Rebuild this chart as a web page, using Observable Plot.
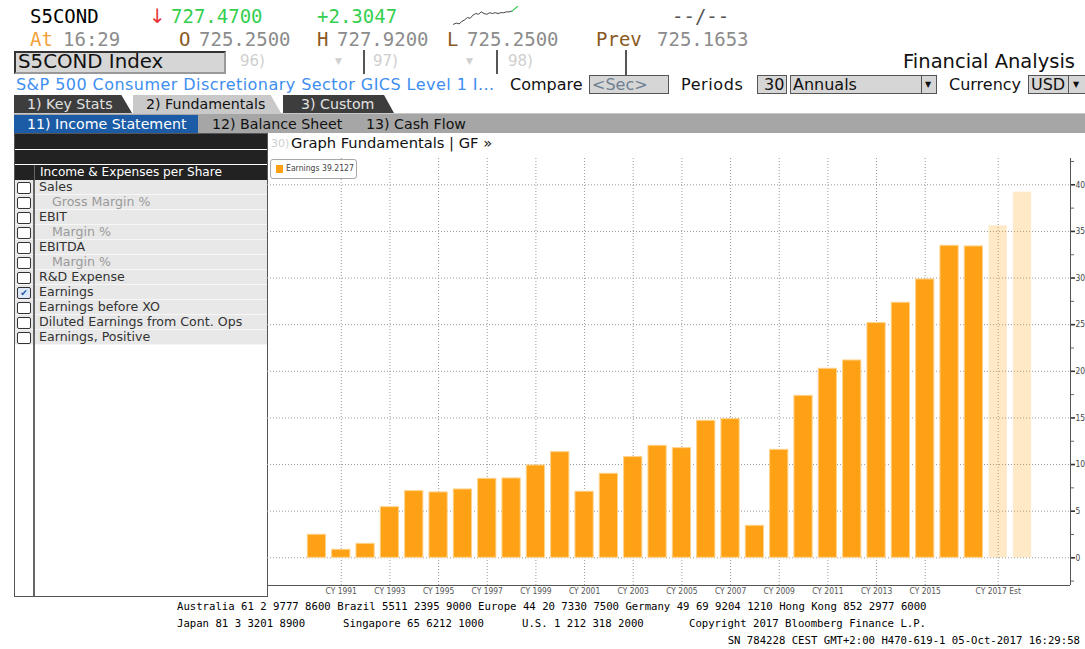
<!DOCTYPE html>
<html>
<head>
<meta charset="utf-8">
<script src="https://cdn.jsdelivr.net/npm/d3@7"></script>
<script src="https://cdn.jsdelivr.net/npm/@observablehq/plot@0.6"></script>
<style>
  html, body { margin:0; padding:0; background:#fff; }
  body { width:1085px; height:649px; position:relative; overflow:hidden; font-family:"DejaVu Sans", sans-serif; }
  .a { position:absolute; white-space:nowrap; }
  .mono { font-family:"DejaVu Sans Mono", monospace; font-size:19px; line-height:22px; }
  .gray { color:#8c8c8c; }
  .brown { color:#8a5a22; }
  .green { color:#35cf4f; }
  .box { position:absolute; background:#d6d6d6; border:1px solid #555; box-sizing:border-box; }
  .tab { position:absolute; height:18px; top:95px; font-size:14.2px; line-height:18px; box-sizing:border-box; padding-left:13px; }
  .row { position:absolute; left:34px; width:233px; height:15px; background:#e8e8e8; border-bottom:1px solid #f6f6f6; box-sizing:border-box; font-size:12.6px; line-height:14px; color:#333; padding-left:5px; }
  .cb { position:absolute; left:17px; width:12px; height:10px; border:1.5px solid #333; border-radius:2px; background:#fff; }
  .cbcell { position:absolute; left:15px; width:19px; height:15px; background:#e8e8e8; border-bottom:1px solid #f6f6f6; box-sizing:border-box; }
  .foot { font-family:"DejaVu Sans Mono", monospace; font-size:10.65px; line-height:13px; color:#000; }
  .r4 { font-size:16px; line-height:19px; color:#111; top:75px; }
</style>
</head>
<body>
<script>
// ---------------- data ----------------
const periods = [
  "CY 1990","CY 1991","CY 1992","CY 1993","CY 1994","CY 1995","CY 1996","CY 1997","CY 1998","CY 1999",
  "CY 2000","CY 2001","CY 2002","CY 2003","CY 2004","CY 2005","CY 2006","CY 2007","CY 2008","CY 2009",
  "CY 2010","CY 2011","CY 2012","CY 2013","CY 2014","CY 2015","CY 2016","CY 2017","CY 2017 Est","CY 2018 Est"
];
const earnings = [
  2.47, 0.86, 1.50, 5.43, 7.15, 7.01, 7.33, 8.47, 8.51, 9.90,
  11.33, 7.08, 9.01, 10.80, 12.01, 11.76, 14.69, 14.87, 3.43, 11.58,
  17.37, 20.27, 21.16, 25.17, 27.35, 29.85, 33.46, 33.39, 35.60, 39.2127
];
const estimatePeriods = ["CY 2017 Est", "CY 2018 Est"];
const tickPeriods = ["CY 1991","CY 1993","CY 1995","CY 1997","CY 1999","CY 2001","CY 2003","CY 2005","CY 2007","CY 2009","CY 2011","CY 2013","CY 2015","CY 2017 Est"];
const tickLabels  = ["CY 1991","CY 1993","CY 1995","CY 1997","CY 1999","CY 2001","CY 2003","CY 2005","CY 2007","CY 2009","CY 2011","CY 2013","CY 2015","CY 2017 Est"];
const yTicks = [0, 5, 10, 15, 20, 25, 30, 35, 40];
const yMinorTicks = [-2.5, 2.5, 7.5, 12.5, 17.5, 22.5, 27.5, 32.5, 37.5, 42.5];
const seriesName = "Earnings";
// intraday sparkline
const sparkMain = [725.25, 725.4, 725.3, 725.6, 725.8, 726.1, 726.0, 726.4, 726.6, 726.5, 726.8, 726.6, 726.5, 726.7, 726.6, 726.7, 726.6, 726.7, 726.7, 726.8, 726.8, 726.9];
const sparkLast = [726.9, 727.47];

// left menu items
const menuItems = [
  ["Sales", false, false], ["Gross Margin %", true, false], ["EBIT", false, false], ["Margin %", true, false],
  ["EBITDA", false, false], ["Margin %", true, false], ["R&D Expense", false, false], ["Earnings", false, true],
  ["Earnings before XO", false, false], ["Diluted Earnings from Cont. Ops", false, false], ["Earnings, Positive", false, false]
];
</script>

<!-- Row 1 -->
<div class="a mono" style="left:30px;top:5px;color:#000;">S5COND</div>
<div class="a" style="left:149px;top:4px;font-size:20px;color:#e8353b;">↓</div>
<div class="a mono green" style="left:171px;top:5px;">727.4700</div>
<div class="a mono green" style="left:317px;top:5px;">+2.3047</div>
<div id="spark" class="a" style="left:451px;top:3px;"></div>
<div class="a mono" style="left:672px;top:5px;color:#555;">--/--</div>

<!-- Row 2 -->
<div class="a mono" style="left:30px;top:28px;color:#f2a23a;">At</div>
<div class="a mono gray" style="left:63px;top:28px;">16:29</div>
<div class="a mono brown" style="left:179px;top:28px;">O</div>
<div class="a mono gray" style="left:199px;top:28px;">725.2500</div>
<div class="a mono brown" style="left:317px;top:28px;">H</div>
<div class="a mono gray" style="left:337px;top:28px;">727.9200</div>
<div class="a mono brown" style="left:447px;top:28px;">L</div>
<div class="a mono gray" style="left:467px;top:28px;">725.2500</div>
<div class="a mono brown" style="left:596px;top:28px;">Prev</div>
<div class="a mono gray" style="left:657px;top:28px;">725.1653</div>

<!-- Row 3 -->
<div class="box" style="left:14px;top:51px;width:212px;height:23px;border:2px solid #333;border-right-color:#999;border-bottom-color:#999;"></div>
<div class="a" style="left:18px;top:50px;font-size:19.8px;line-height:23px;color:#111;">S5COND Index</div>
<div class="a" style="left:240px;top:52px;font-size:15px;color:#cfcfcf;">96)</div>
<div class="a" style="left:335px;top:56px;font-size:9px;color:#cfcfcf;">▼</div>
<div class="a" style="left:363px;top:50px;width:2px;height:24px;background:#555;"></div>
<div class="a" style="left:373px;top:52px;font-size:15px;color:#cfcfcf;">97)</div>
<div class="a" style="left:466px;top:56px;font-size:9px;color:#cfcfcf;">▼</div>
<div class="a" style="left:496px;top:50px;width:2px;height:24px;background:#555;"></div>
<div class="a" style="left:508px;top:52px;font-size:15px;color:#cfcfcf;">98)</div>
<div class="a" style="left:625px;top:50px;width:2px;height:25px;background:#555;"></div>
<div class="a" style="right:10px;top:50px;font-size:19.5px;color:#111;">Financial Analysis</div>

<!-- Row 4 -->
<div class="a r4" style="left:16px;color:#3d8ef0;letter-spacing:0.45px;">S&amp;P 500 Consumer Discretionary Sector GICS Level 1 I...</div>
<div class="a r4" style="left:510px;">Compare</div>
<div class="box" style="left:589px;top:75px;width:80px;height:19px;"></div>
<div class="a r4" style="left:592px;color:#6f7f92;">&lt;Sec&gt;</div>
<div class="a r4" style="left:681px;letter-spacing:0.6px;">Periods</div>
<div class="box" style="left:757px;top:75px;width:30px;height:19px;"></div>
<div class="a r4" style="left:764px;">30</div>
<div class="box" style="left:790px;top:75px;width:147px;height:19px;"></div>
<div class="a r4" style="left:793px;">Annuals</div>
<div class="a" style="left:921px;top:76px;width:1px;height:17px;background:#555;"></div>
<div class="a" style="left:925px;top:78px;font-size:8px;line-height:14px;color:#111;">▼</div>
<div class="a r4" style="left:949px;">Currency</div>
<div class="box" style="left:1028px;top:75px;width:60px;height:19px;"></div>
<div class="a r4" style="left:1031px;">USD</div>
<div class="a" style="left:1068px;top:76px;width:1px;height:17px;background:#555;"></div>
<div class="a" style="left:1073px;top:78px;font-size:8px;line-height:14px;color:#111;">▼</div>

<!-- Row 5 tabs -->
<div class="tab" style="left:14px;width:118px;background:#3d3d3d;color:#e2e2e2;clip-path:polygon(0 0,91% 0,100% 100%,0 100%);">1) Key Stats</div>
<div class="tab" style="left:133px;width:148px;background:#c9c9c9;color:#111;clip-path:polygon(0 0,93% 0,100% 100%,0 100%);">2) Fundamentals</div>
<div class="tab" style="left:283px;width:111px;background:#3d3d3d;color:#e2e2e2;clip-path:polygon(0 0,91% 0,100% 100%,0 100%);padding-left:18px;">3) Custom</div>

<!-- Row 6 subtabs -->
<div class="a" style="left:14px;top:113px;width:1071px;height:20px;background:#a6a6a6;border-top:1px solid #c8c8c8;box-sizing:border-box;"></div>
<div class="a" style="left:14px;top:115px;width:184px;height:18px;background:#1c5ba6;"></div>
<div class="a" style="left:27px;top:115px;font-size:14.2px;line-height:18px;color:#fff;">11) Income Statement</div>
<div class="a" style="left:212px;top:115px;font-size:14.2px;line-height:18px;color:#111;">12) Balance Sheet</div>
<div class="a" style="left:366px;top:115px;font-size:14.2px;line-height:18px;color:#111;">13) Cash Flow</div>

<!-- Left panel -->
<div class="a" style="left:14px;top:133px;width:254px;height:464px;border:1.5px solid #555;box-sizing:border-box;background:#fff;"></div>
<div class="a" style="left:15px;top:134px;width:252px;height:15px;background:#222;"></div>
<div class="a" style="left:15px;top:150px;width:252px;height:14px;background:#222;"></div>
<div class="a" style="left:15px;top:165px;width:252px;height:15px;background:#222;"></div>
<div class="a" style="left:34px;top:165px;width:1px;height:15px;background:#666;"></div>
<div class="a" style="left:40px;top:165px;font-size:12.1px;line-height:15px;color:#fff;">Income &amp; Expenses per Share</div>
<div id="menu"></div>
<div class="a" style="left:33px;top:180px;width:1.5px;height:416px;background:#666;"></div>

<!-- Chart panel header -->
<div class="a" style="left:271px;top:136px;font-size:11px;line-height:15px;color:#cfcfcf;">30)</div>
<div class="a" style="left:291px;top:134px;font-size:14.7px;line-height:18px;color:#111;">Graph Fundamentals | GF »</div>

<div id="chart" class="a" style="left:267px;top:152px;"></div>

<!-- Legend -->
<div class="a" style="left:270px;top:159px;width:87px;height:20px;border:1px solid #a8a8a8;border-radius:3px;box-sizing:border-box;background:#fff;"></div>
<div class="a" style="left:276px;top:165px;width:7px;height:8px;background:#ffa114;"></div>
<div id="legendText" class="a" style="left:286px;top:162px;font-family:'Liberation Sans Narrow','DejaVu Sans Condensed',sans-serif;font-size:8.6px;line-height:13px;color:#444;"></div>

<!-- Footer -->
<div class="a foot" style="left:177px;top:600px;">Australia 61 2 9777 8600 Brazil 5511 2395 9000 Europe 44 20 7330 7500 Germany 49 69 9204 1210 Hong Kong 852 2977 6000</div>
<div class="a foot" style="left:177px;top:617px;">Japan 81 3 3201 8900</div>
<div class="a foot" style="left:343px;top:617px;">Singapore 65 6212 1000</div>
<div class="a foot" style="left:522px;top:617px;">U.S. 1 212 318 2000</div>
<div class="a foot" style="left:689px;top:617px;">Copyright 2017 Bloomberg Finance L.P.</div>
<div class="a foot" style="right:5px;top:634px;">SN 784228 CEST GMT+2:00 H470-619-1 05-Oct-2017 16:29:58</div>

<script>
// menu rows
const menu = document.getElementById("menu");
menuItems.forEach(([label, indent, checked], i) => {
  const top = 180 + i * 15;
  const cell = document.createElement("div");
  cell.className = "cbcell"; cell.style.top = top + "px"; menu.appendChild(cell);
  const cb = document.createElement("div");
  cb.className = "cb"; cb.style.top = (top + 1.5) + "px";
  if (checked) {
    cb.style.background = "#dce8f8";
    cb.innerHTML = '<div style="font-size:9px;line-height:10px;color:#1a56a8;text-align:center;">✔</div>';
  }
  menu.appendChild(cb);
  const row = document.createElement("div");
  row.className = "row"; row.style.top = top + "px";
  if (indent) { row.style.paddingLeft = "18px"; row.style.color = "#9a9a9a"; }
  row.textContent = label;
  menu.appendChild(row);
});

// legend text
document.getElementById("legendText").textContent = seriesName + " " + earnings[earnings.length - 1].toFixed(4);

// main chart
const data = periods.map((p, i) => ({period: p, value: earnings[i], est: estimatePeriods.includes(p)}));
const orange = "#ffa114";
const grid = {stroke: "#9a9a9a", strokeDasharray: "1,2", strokeWidth: 1};

const axisLines = (index, scales, values, dims) => {
  const g = d3.create("svg:g");
  const xr = dims.width - dims.marginRight, yb = dims.height - dims.marginBottom;
  g.append("line").attr("x1", dims.marginLeft).attr("x2", xr).attr("y1", yb + 0.5).attr("y2", yb + 0.5).attr("stroke", "#555");
  g.append("line").attr("x1", xr + 0.5).attr("x2", xr + 0.5).attr("y1", dims.marginTop).attr("y2", yb).attr("stroke", "#555");
  return g.node();
};

const chart = Plot.plot({
  width: 818,
  height: 448,
  marginLeft: 0, marginRight: 15, marginTop: 6, marginBottom: 15,
  x: {domain: periods, range: [37.26, 767.2], paddingInner: 0.25, paddingOuter: 0.125, round: false, axis: null},
  y: {domain: [-2.97, 42.82], axis: null},
  style: {background: "transparent", fontFamily: "'Liberation Sans Narrow','DejaVu Sans Condensed',sans-serif", fontSize: "8.4px", color: "#555", overflow: "visible"},
  marks: [
    Plot.ruleY(yTicks, grid),
    Plot.ruleX(tickPeriods, grid),
    Plot.barY(data.filter(d => !d.est), {x: "period", y: "value", fill: orange, stroke: "#ffd38c", strokeWidth: 1}),
    Plot.barY(data.filter(d => d.est), {x: "period", y: "value", fill: orange, fillOpacity: 0.24}),
    Plot.axisX({ticks: tickPeriods, tickSize: 0, tickPadding: 3, anchor: "bottom", label: null,
      tickFormat: d => tickLabels[tickPeriods.indexOf(d)], fill: "#555"}),
    Plot.axisY({anchor: "right", ticks: yMinorTicks, tickSize: 3, tickFormat: () => "", stroke: "#666", label: null}),
    Plot.axisY({anchor: "right", ticks: yTicks, tickSize: 4, tickPadding: 1, strokeWidth: 1.6, stroke: "#333", fill: "#444", label: null, tickFormat: d => String(d)}),
    axisLines
  ]
});
document.getElementById("chart").appendChild(chart);

// sparkline
const sparkData = sparkMain.map((v, i) => ({i, v}));
const sparkData2 = sparkLast.map((v, j) => ({i: sparkMain.length - 1 + j * 2, v}));
const spark = Plot.plot({
  width: 68, height: 24, margin: 2,
  x: {axis: null, domain: [0, sparkMain.length + 1]},
  y: {axis: null, domain: [725.1, 727.6]},
  style: {background: "transparent"},
  marks: [
    Plot.lineY(sparkData, {x: "i", y: "v", stroke: "#444", strokeWidth: 1}),
    Plot.lineY(sparkData2, {x: "i", y: "v", stroke: "#3ad14f", strokeWidth: 1.2})
  ]
});
document.getElementById("spark").appendChild(spark);
</script>
</body>
</html>
